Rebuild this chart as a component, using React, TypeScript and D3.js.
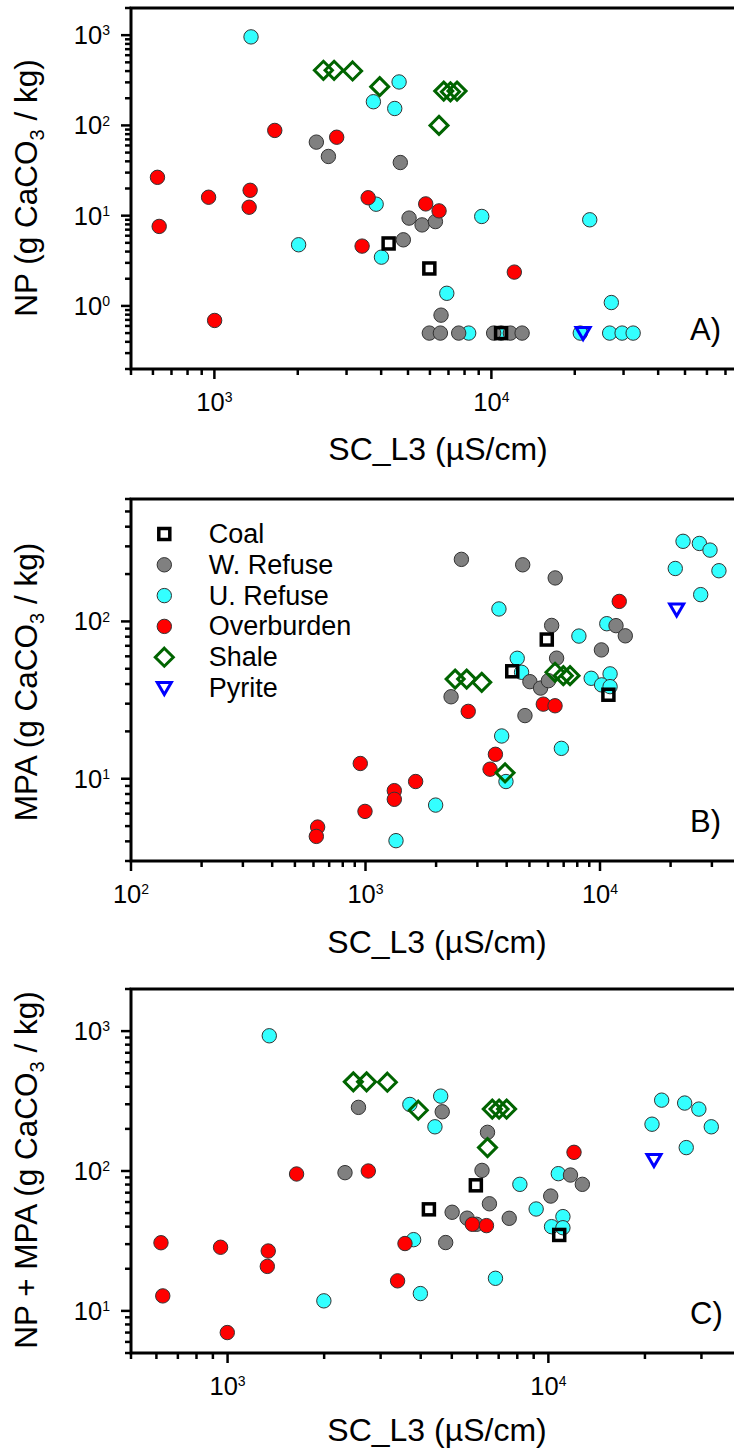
import React from "react";
import * as d3 from "d3";

// ---------- DATA (SC_L3 µS/cm, value g CaCO3/kg) ----------
const categories = ["Coal", "W. Refuse", "U. Refuse", "Overburden", "Shale", "Pyrite"];

// Panel A: NP
const coalA: [number, number][] = [[4256, 4.92], [5970, 2.6], [10840, 0.5]];
const wRefuseA: [number, number][] = [[2334, 65.3], [2580, 45.3], [4690, 38.8], [5045, 9.4], [5620, 7.9], [6280, 8.6], [4810, 5.4], [6580, 0.79], [5970, 0.5], [6545, 0.5], [7620, 0.5], [10190, 0.5], [11710, 0.5], [12910, 0.5]];
const uRefuseA: [number, number][] = [[1356, 957], [4643, 303], [3750, 183], [4478, 154], [3837, 13.4], [2014, 4.76], [4010, 3.47], [9230, 9.8], [22650, 9.0], [6903, 1.38], [27100, 1.09], [8280, 0.5], [10840, 0.5], [20940, 0.5], [26730, 0.5], [29640, 0.5], [32490, 0.5]];
const overburdenA: [number, number][] = [[623, 26.6], [632, 7.6], [953, 16], [1346, 19.1], [1335, 12.4], [1652, 88], [2764, 74], [1002, 0.69], [3590, 15.8], [3414, 4.6], [5794, 13.5], [6473, 11.3], [12100, 2.37]];
const shaleA: [number, number][] = [[2475, 408], [2705, 408], [3155, 401], [3952, 269], [6470, 100], [6730, 240], [7115, 236], [7516, 240]];
const pyriteA: [number, number][] = [[21430, 0.5]];

// Panel B: MPA
const coalB: [number, number][] = [[5930, 76.7], [4225, 48.2], [10860, 34.2]];
const wRefuseB: [number, number][] = [[2564, 248], [4681, 229], [6442, 189], [6220, 94.3], [11700, 94], [12820, 81], [10140, 65.9], [6530, 58.4], [5024, 41.4], [5580, 37.7], [6026, 42], [2317, 33.2], [4786, 25.2]];
const uRefuseB: [number, number][] = [[1349, 4.04], [1991, 6.8], [3972, 9.6], [3808, 18.7], [6843, 15.6], [3707, 120], [4436, 58.3], [4630, 47.5], [8128, 80.7], [10690, 96.7], [9170, 43.5], [11040, 46.4], [10160, 39.5], [11040, 38.5], [22600, 323], [26530, 313], [29450, 284], [20940, 217], [32150, 210], [26880, 148]];
const overburdenB: [number, number][] = [[950, 12.5], [1636, 9.6], [1327, 8.4], [1327, 7.4], [995, 6.2], [625, 4.93], [617, 4.3], [2742, 26.8], [3581, 14.3], [3398, 11.5], [5731, 29.8], [6431, 29.1], [12080, 134]];
const shaleB: [number, number][] = [[2411, 43], [2700, 43], [3131, 41], [3936, 10.9], [6430, 47.5], [6975, 45.2], [7450, 45.2]];
const pyriteB: [number, number][] = [[21230, 119]];

// Panel C: NP + MPA
const coalC: [number, number][] = [[5942, 79], [4242, 53.2], [10810, 34.9]];
const wRefuseC: [number, number][] = [[2559, 285], [2323, 97.3], [4668, 265], [6460, 189], [6210, 101], [6550, 58.3], [5012, 50.7], [5580, 46], [5970, 41.6], [7550, 45.9], [4785, 30.8], [10170, 66.2], [11720, 93.6], [12760, 80.3]];
const uRefuseC: [number, number][] = [[1349, 926], [1996, 11.8], [3801, 32.3], [3990, 13.3], [3700, 299], [4617, 343], [4430, 207], [6840, 17.1], [8150, 80.3], [9160, 53.5], [10740, 95.7], [11100, 47.2], [10230, 40], [11100, 39.3], [22550, 321], [26600, 306], [29450, 277], [21040, 216], [32200, 207], [26900, 147]];
const overburdenC: [number, number][] = [[620, 30.7], [628, 12.8], [951, 28.5], [1339, 26.8], [1330, 20.8], [998, 7.0], [1641, 95.2], [2746, 100], [3573, 30.3], [3388, 16.4], [5794, 41.6], [6412, 40.7], [12020, 136]];
const shaleC: [number, number][] = [[2466, 434], [2712, 434], [3148, 431], [3930, 272], [6460, 147], [6685, 277], [7020, 277], [7410, 277]];
const pyriteC: [number, number][] = [[21340, 120]];

// Axis domains and labelled decades
const xDomainA = [500, 1e5];
const yDomainA = [0.2, 2000];
const xLabelsA = [1e3, 1e4];
const yLabelsA = [1, 10, 100, 1000];

const xDomainB = [100, 1e5];
const yDomainB = [3, 600];
const xLabelsB = [1e2, 1e3, 1e4];
const yLabelsB = [10, 100];

const xDomainC = [500, 5e4];
const yDomainC = [5, 2000];
const xLabelsC = [1e3, 1e4];
const yLabelsC = [10, 100, 1000];

const xTitle = "SC_L3 (\u00b5S/cm)";

// ---------- STYLE ----------
const FONT = "'Liberation Sans', Arial, Helvetica, sans-serif";
const COL = {
  coal: "#000000",
  wref: "#808080",
  uref: "#33FFFF",
  over: "#FF0000",
  shale: "#006400",
  pyrite: "#0000FF",
};

type Kind = "coal" | "wref" | "uref" | "over" | "shale" | "pyrite";

function Marker({ kind, x, y }: { kind: Kind; x: number; y: number }) {
  if (kind === "coal") {
    return <rect x={x - 5.5} y={y - 5.5} width={11} height={11} fill="none" stroke={COL.coal} strokeWidth={3.5} />;
  }
  if (kind === "shale") {
    const s = 9;
    return <path d={`M${x},${y - s}L${x + s},${y}L${x},${y + s}L${x - s},${y}Z`} fill="none" stroke={COL.shale} strokeWidth={3} />;
  }
  if (kind === "pyrite") {
    return <path d={`M${x - 7},${y - 5.5}L${x + 7},${y - 5.5}L${x},${y + 6.5}Z`} fill="none" stroke={COL.pyrite} strokeWidth={3} strokeLinejoin="miter" />;
  }
  return <circle cx={x} cy={y} r={7.2} fill={COL[kind]} stroke="#333" strokeWidth={1} />;
}

function logTicks(domain: number[]) {
  const out: { v: number; major: boolean }[] = [];
  const k0 = Math.floor(Math.log10(domain[0]));
  const k1 = Math.ceil(Math.log10(domain[1]));
  for (let k = k0; k <= k1; k++) {
    for (let m = 1; m <= 9; m++) {
      const v = m * Math.pow(10, k);
      if (v >= domain[0] * 0.9999 && v <= domain[1] * 1.0001) out.push({ v, major: m === 1 });
    }
  }
  return out;
}

type PanelProps = {
  left: number; right: number; top: number; bottom: number;
  xDomain: number[]; yDomain: number[]; xLabels: number[]; yLabels: number[];
  yTitle: React.ReactNode; yTitleY: number; xTitleX: number; xTitleDy: number; tag: string;
  series: { kind: Kind; data: [number, number][] }[];
  legend?: boolean;
};

function Panel(p: PanelProps) {
  const x = d3.scaleLog().domain(p.xDomain).range([p.left, p.right]);
  const y = d3.scaleLog().domain(p.yDomain).range([p.bottom, p.top]);
  const xt = logTicks(p.xDomain);
  const yt = logTicks(p.yDomain);
  const order: Kind[] = ["uref", "wref", "over", "shale", "coal", "pyrite"];
  const sorted = [...p.series].sort((a, b) => order.indexOf(a.kind) - order.indexOf(b.kind));
  const legendKinds: Kind[] = ["coal", "wref", "uref", "over", "shale", "pyrite"];
  return (
    <g>
      {sorted.map((s, i) => (
        <g key={i}>
          {s.data.map((d, j) => (
            <Marker key={j} kind={s.kind} x={x(d[0])} y={y(d[1])} />
          ))}
        </g>
      ))}
      <path d={`M${p.left},${p.bottom}L${p.left},${p.top}L${p.right},${p.top}L${p.right},${p.bottom}Z`} fill="none" stroke="#000" strokeWidth={3} />
      {xt.map((t, i) => (
        <line key={"x" + i} x1={x(t.v)} x2={x(t.v)} y1={p.bottom} y2={p.bottom + (t.major ? 10 : 6)} stroke="#000" strokeWidth={2.5} />
      ))}
      {yt.map((t, i) => (
        <line key={"y" + i} x1={p.left} x2={p.left - (t.major ? 10 : 6)} y1={y(t.v)} y2={y(t.v)} stroke="#000" strokeWidth={2.5} />
      ))}
      {p.xLabels.map((v, i) => (
        <text key={"xl" + i} x={x(v)} y={p.bottom + 42} textAnchor="middle" fontFamily={FONT} fontSize={25.5}>
          10<tspan fontSize={14} dy={-8.7}>{Math.round(Math.log10(v))}</tspan>
        </text>
      ))}
      {p.yLabels.map((v, i) => (
        <text key={"yl" + i} x={p.left - 21} y={y(v) + 9} textAnchor="end" fontFamily={FONT} fontSize={25.5}>
          10<tspan fontSize={14} dy={-8.7}>{Math.round(Math.log10(v))}</tspan>
        </text>
      ))}
      <text x={p.xTitleX} y={p.bottom + p.xTitleDy} textAnchor="middle" fontFamily={FONT} fontSize={32}>{xTitle}</text>
      <text transform={`translate(37,${p.yTitleY}) rotate(-90)`} textAnchor="middle" fontFamily={FONT} fontSize={31.5}>{p.yTitle}</text>
      <text x={690} y={p.bottom - 29} fontFamily={FONT} fontSize={31}>{p.tag}</text>
      {p.legend && legendKinds.map((k, i) => (
        <g key={"lg" + i}>
          <Marker kind={k} x={164.3} y={534 + i * 30.8} />
          <text x={208.7} y={534 + i * 30.8 + 9} fontFamily={FONT} fontSize={27}>{categories[i]}</text>
        </g>
      ))}
    </g>
  );
}

function unitTail() {
  return [
    " (g CaCO",
    <tspan key="s" fontSize={20} dy={7}>3</tspan>,
    <tspan key="r" dy={-7}> / kg)</tspan>,
  ];
}

export default function App() {
  return (
    <div style={{ position: "absolute", left: 0, top: 0 }}>
      <svg width={734} height={1452} style={{ display: "block", background: "#fff" }}>
        <rect width={734} height={1452} fill="#fff" />
        <Panel
          left={131} right={131 + 277 * Math.log10(xDomainA[1] / xDomainA[0])} top={8} bottom={369}
          xDomain={xDomainA} yDomain={yDomainA} xLabels={xLabelsA} yLabels={yLabelsA}
          yTitle={["NP", ...unitTail()]} yTitleY={188} xTitleX={438} xTitleDy={91} tag="A)"
          series={[
            { kind: "coal", data: coalA }, { kind: "wref", data: wRefuseA }, { kind: "uref", data: uRefuseA },
            { kind: "over", data: overburdenA }, { kind: "shale", data: shaleA }, { kind: "pyrite", data: pyriteA },
          ]}
        />
        <Panel
          left={131} right={131 + 234.5 * Math.log10(xDomainB[1] / xDomainB[0])} top={499} bottom={861}
          xDomain={xDomainB} yDomain={yDomainB} xLabels={xLabelsB} yLabels={yLabelsB}
          yTitle={["MPA", ...unitTail()]} yTitleY={682} xTitleX={437} xTitleDy={92} tag="B)" legend
          series={[
            { kind: "coal", data: coalB }, { kind: "wref", data: wRefuseB }, { kind: "uref", data: uRefuseB },
            { kind: "over", data: overburdenB }, { kind: "shale", data: shaleB }, { kind: "pyrite", data: pyriteB },
          ]}
        />
        <Panel
          left={131} right={131 + 320.8 * Math.log10(xDomainC[1] / xDomainC[0])} top={989} bottom={1353}
          xDomain={xDomainC} yDomain={yDomainC} xLabels={xLabelsC} yLabels={yLabelsC}
          yTitle={["NP + MPA", ...unitTail()]} yTitleY={1170} xTitleX={437} xTitleDy={88} tag="C)"
          series={[
            { kind: "coal", data: coalC }, { kind: "wref", data: wRefuseC }, { kind: "uref", data: uRefuseC },
            { kind: "over", data: overburdenC }, { kind: "shale", data: shaleC }, { kind: "pyrite", data: pyriteC },
          ]}
        />
      </svg>
    </div>
  );
}
